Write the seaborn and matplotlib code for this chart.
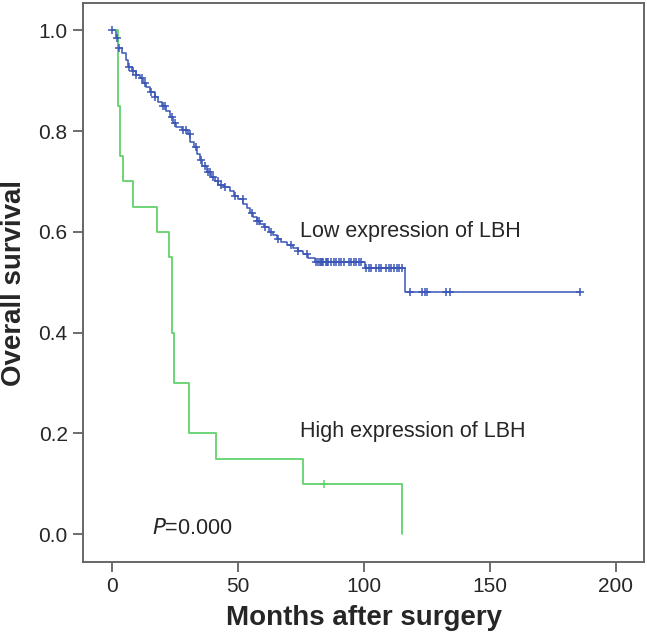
import numpy as np
import pandas as pd
import matplotlib
matplotlib.use("Agg")
import matplotlib.pyplot as plt
import seaborn as sns

# Kaplan-Meier steps (months, survival after the step)
low_t = [0, 1.5, 2.6, 4, 5.5, 6.6, 8, 9.5, 11.2, 12.5, 13.5, 15, 17, 18.5, 20, 21.5,
         23, 24.4, 25.5, 28, 30.4, 31.1, 32.5, 34, 35, 36, 37.7, 39.5, 41, 42.3, 44.5,
         47, 48.5, 50, 52.2, 53.5, 55, 56.2, 57.5, 59, 60.5, 62.5, 64, 65.5, 67, 69.5,
         72, 74, 76, 78, 80.7, 100.3, 116.5, 185.8]
low_s = [1.0, 0.985, 0.965, 0.955, 0.94, 0.928, 0.92, 0.912, 0.905, 0.895, 0.888, 0.878,
         0.868, 0.858, 0.85, 0.84, 0.828, 0.815, 0.808, 0.802, 0.795, 0.778, 0.768, 0.755,
         0.742, 0.73, 0.718, 0.708, 0.7, 0.693, 0.688, 0.682, 0.672, 0.665, 0.656, 0.648,
         0.638, 0.63, 0.622, 0.615, 0.61, 0.6, 0.593, 0.585, 0.58, 0.574, 0.568, 0.562,
         0.556, 0.549, 0.54, 0.528, 0.48, 0.48]
low_cens = [0.3, 2.0, 2.8, 7.0, 8.3, 9.8, 12.0, 13.0, 15.5, 17.2, 20.5, 21.0, 24.0, 25.0,
            28.2, 29.5, 31.0, 33.5, 35.5, 37.0, 38.0, 39.0, 40.0, 42.0, 43.5, 45.0, 49.0,
            52.0, 55.5, 57.5, 58.5, 61, 63, 66, 71, 74, 77.5,
            81, 82, 82.5, 83, 83.5, 84, 85, 85.5, 86, 87, 88, 89, 90, 91, 92, 94, 95, 96,
            97, 98, 99, 101, 102, 103, 105, 106, 107, 109, 110, 111, 112, 113, 114, 115,
            118.4, 123.3, 124.2, 125, 132.5, 134.2, 185.8]

high_t = [0, 2.6, 3.4, 4.6, 8.6, 17.9, 22.9, 23.9, 24.7, 30.8, 41.3, 76.0, 115.3]
high_s = [1.0, 0.85, 0.75, 0.70, 0.65, 0.60, 0.55, 0.40, 0.30, 0.20, 0.15, 0.10, 0.0]
high_cens = [84.2]

x_ticks = [0, 50, 100, 150, 200]
y_ticks = [0.0, 0.2, 0.4, 0.6, 0.8, 1.0]

blue = "#3b56b8"
green = "#62d26c"


def at(ts, ss, c):
    idx = np.searchsorted(ts, c, side="right") - 1
    return np.array(ss)[idx]


sns.set_style("white")
plt.rcParams["font.family"] = ["Liberation Sans", "DejaVu Sans"]

fig = plt.figure(figsize=(6.47, 6.39), dpi=100)
ax = fig.add_axes([0.1283, 0.1205, 0.8671, 0.8748])

low = pd.DataFrame({"t": low_t, "s": low_s})
high = pd.DataFrame({"t": high_t, "s": high_s})
sns.lineplot(data=low, x="t", y="s", ax=ax, color=blue, lw=1.1,
             drawstyle="steps-post", estimator=None, sort=False)
sns.lineplot(data=high, x="t", y="s", ax=ax, color=green, lw=1.3,
             drawstyle="steps-post", estimator=None, sort=False)

lc = pd.DataFrame({"t": low_cens, "s": at(low_t, low_s, low_cens)})
hc = pd.DataFrame({"t": high_cens, "s": at(high_t, high_s, high_cens)})
sns.scatterplot(data=lc, x="t", y="s", ax=ax, marker="+", s=35, color=blue,
                linewidth=1.1, zorder=3)
sns.scatterplot(data=hc, x="t", y="s", ax=ax, marker="+", s=35, color=green,
                linewidth=1.1, zorder=3)

ax.text(74.7, 0.590, "Low expression of LBH", fontsize=15.5, va="baseline")
ax.text(74.7, 0.193, "High expression of LBH", fontsize=15.5, va="baseline")
ax.text(15.9, 0.0, r"$\it{P}$=0.000", fontsize=15.5, va="baseline")

ax.set_xlim(-11.4, 211.2)
ax.set_ylim(-0.055, 1.054)
ax.set_xticks(x_ticks)
ax.set_yticks(y_ticks)
ax.set_yticklabels([f"{v:.1f}" for v in y_ticks])
ax.tick_params(axis="both", direction="out", length=7, width=1.2, color="#555555",
               labelsize=15, pad=4, left=True, bottom=True)
for sp in ax.spines.values():
    sp.set_color("#666666")
    sp.set_linewidth(1.4)

ax.set_xlabel("Months after surgery", fontsize=20, fontweight="bold", labelpad=6)
ax.set_ylabel("Overall survival", fontsize=20, fontweight="bold", labelpad=8)

fig.savefig("out.png", dpi=100)
